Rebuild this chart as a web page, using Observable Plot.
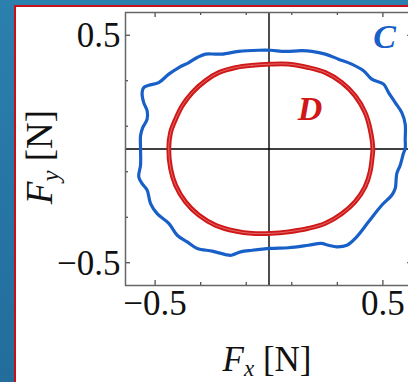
<!DOCTYPE html>
<html>
<head>
<meta charset="utf-8">
<script src="https://cdn.jsdelivr.net/npm/d3@7"></script>
<script src="https://cdn.jsdelivr.net/npm/@observablehq/plot@0.6"></script>
<style>
  html, body { margin: 0; padding: 0; }
  #page { position: relative; width: 408px; height: 382px; overflow: hidden;
          background: linear-gradient(180deg, #2c80ad 0%, #2676a5 50%, #226d9c 100%); }
  #panel { position: absolute; left: 14px; top: 4.5px; width: 420px; height: 400px; background: #fff;
           border-left: 2.5px solid #c8101a; border-top: 2.5px solid #c8101a; }
  #chart { position: absolute; left: 0; top: 0; width: 420px; height: 382px; }
</style>
</head>
<body>
<div id="page"><div id="panel"></div><div id="chart"></div></div>
<script>
// Force trajectory C (wobbly outer loop), F_x and F_y in newtons
const cFx = [0.007, -0.045, -0.133, -0.205, -0.235, -0.279, -0.315, -0.352, -0.396, -0.440, -0.484, -0.528, -0.550, -0.557, -0.550, -0.535, -0.535, -0.554, -0.564, -0.564,
             -0.564, -0.572, -0.557, -0.535, -0.520, -0.491, -0.440, -0.403, -0.359, -0.315, -0.249, -0.191, -0.165, -0.125, -0.074, 0.007,
             0.086, 0.173, 0.229, 0.261, 0.298, 0.342, 0.385, 0.437, 0.495, 0.539, 0.554, 0.561, 0.576, 0.590, 0.598,
             0.598, 0.598, 0.583, 0.554, 0.525, 0.503, 0.451, 0.415, 0.363, 0.305, 0.247, 0.188, 0.144, 0.071];
const cFy = [0.434, 0.434, 0.429, 0.417, 0.417, 0.417, 0.402, 0.380, 0.358, 0.329, 0.292, 0.280, 0.270, 0.248, 0.204, 0.168, 0.131, 0.095, 0.058, 0.002,
             -0.071, -0.122, -0.152, -0.181, -0.240, -0.284, -0.327, -0.379, -0.408, -0.437, -0.449, -0.464, -0.467, -0.452, -0.445, -0.437,
             -0.434, -0.423, -0.415, -0.423, -0.430, -0.423, -0.386, -0.320, -0.247, -0.203, -0.174, -0.108, -0.071, -0.020, 0.002,
             0.043, 0.109, 0.160, 0.204, 0.248, 0.285, 0.307, 0.344, 0.373, 0.395, 0.417, 0.429, 0.432, 0.429];

// Force trajectory D (smooth inner loop)
const dFx = [0.007, -0.074, -0.147, -0.220, -0.279, -0.337, -0.381, -0.410, -0.432, -0.440,
             -0.432, -0.410, -0.367, -0.308, -0.235, -0.147, -0.074, 0.007,
             0.086, 0.173, 0.247, 0.320, 0.378, 0.422, 0.444, 0.454, 0.456,
             0.444, 0.422, 0.378, 0.320, 0.247, 0.173, 0.086];
const dFy = [0.373, 0.368, 0.358, 0.336, 0.300, 0.248, 0.190, 0.131, 0.073, 0.002,
             -0.086, -0.159, -0.232, -0.291, -0.335, -0.361, -0.371, -0.371,
             -0.364, -0.349, -0.327, -0.284, -0.232, -0.166, -0.100, -0.027, 0.002,
             0.087, 0.160, 0.234, 0.292, 0.336, 0.358, 0.373];

// Axis ticks
const majorTicks = [-0.5, 0.5];
const minorTicks = [-0.3, -0.1, 0.1, 0.3];
const tickLabels = [-0.5, 0.5];

const loopC = cFx.map((x, i) => ({x, y: cFy[i]}));
const loopD = dFx.map((x, i) => ({x, y: dFy[i]}));

const blue = "#1860c8";
const red = "#d01818";
const tickColor = "#444";

const W = 420, H = 382;
const mL = 125, mR = 8, mT = 12, mB = 97;
const innerW = W - mL - mR, innerH = H - mT - mB;
const fmt = d3.format("");
const serif = "Liberation Serif";

// inward ticks on all four sides of the frame
function frameTicks(values, len) {
  return [
    Plot.ruleX(values, {x: d => d, stroke: tickColor, strokeWidth: 1.2, insetTop: innerH - len}),
    Plot.ruleX(values, {x: d => d, stroke: tickColor, strokeWidth: 1.2, insetBottom: innerH - len}),
    Plot.ruleY(values, {y: d => d, stroke: tickColor, strokeWidth: 1.2, insetRight: innerW - len}),
    Plot.ruleY(values, {y: d => d, stroke: tickColor, strokeWidth: 1.2, insetLeft: innerW - len})
  ];
}

const chart = Plot.plot({
  width: W,
  height: H,
  marginLeft: mL, marginRight: mR, marginTop: mT, marginBottom: mB,
  x: {domain: [-0.63, 0.63], axis: null},
  y: {domain: [-0.6, 0.6], axis: null},
  style: {fontFamily: serif, background: "transparent", overflow: "visible"},
  marks: [
    Plot.ruleX([0], {stroke: "#000", strokeWidth: 1.4}),
    Plot.ruleY([0], {stroke: "#000", strokeWidth: 1.4}),
    Plot.line(loopC, {x: "x", y: "y", stroke: blue, strokeWidth: 3.2, curve: "catmull-rom-closed"}),
    Plot.line(loopD, {x: "x", y: "y", stroke: red, strokeWidth: 4.8, curve: "catmull-rom-closed"}),
    Plot.line(loopD, {x: "x", y: "y", stroke: "#fff", strokeOpacity: 0.5, strokeWidth: 0.7, curve: "catmull-rom-closed"}),
    ...frameTicks(majorTicks, 5),
    ...frameTicks(minorTicks, 3),
    Plot.frame({stroke: "#666", strokeWidth: 1.5}),
    Plot.text(tickLabels, {x: d => d, frameAnchor: "bottom", dy: 29, text: d => fmt(d), fontSize: 35, fill: "#111"}),
    Plot.text(tickLabels, {y: d => d, frameAnchor: "left", textAnchor: "end", dx: -5, dy: 1, text: d => fmt(d), fontSize: 35, fill: "#111"}),
    Plot.text(["C"], {x: 0.507, y: 0.494, text: d => d, fill: blue, fontSize: 34, fontStyle: "italic", fontWeight: "bold"}),
    Plot.text(["D"], {x: 0.18, y: 0.174, text: d => d, fill: red, fontSize: 34, fontStyle: "italic", fontWeight: "bold"})
  ]
});
chart.style.maxWidth = "none";

// axis titles with subscripts
const svg = d3.select(chart);
const xl = svg.append("text")
  .attr("x", 267).attr("y", 371)
  .attr("text-anchor", "middle")
  .attr("fill", "#111")
  .style("font-size", "35px");
xl.append("tspan").attr("font-style", "italic").text("F");
xl.append("tspan").attr("font-style", "italic").attr("font-size", "23px").attr("dy", 5).text("x");
xl.append("tspan").attr("dy", -5).text(" [N]");

const yl = svg.append("text")
  .attr("transform", "translate(52,157) rotate(-90)")
  .attr("text-anchor", "middle")
  .attr("fill", "#111")
  .style("font-size", "37px");
yl.append("tspan").attr("font-style", "italic").text("F");
yl.append("tspan").attr("font-style", "italic").attr("font-size", "25px").attr("dy", 7).text("y");
yl.append("tspan").attr("dy", -7).text(" [N]");

document.getElementById("chart").appendChild(chart);
</script>
</body>
</html>
